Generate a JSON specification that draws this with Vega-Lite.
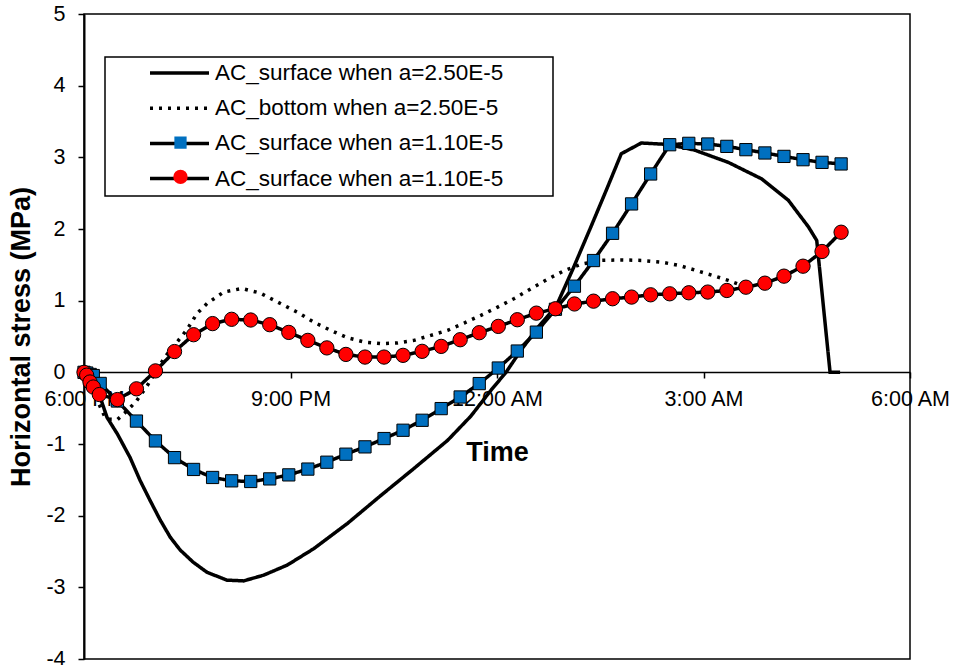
{
  "$schema": "https://vega.github.io/schema/vega-lite/v6.json",
  "width": 826,
  "height": 645,
  "autosize": {"type": "none"},
  "padding": {"left": 84, "top": 14, "right": 43, "bottom": 6},
  "background": "white",
  "config": {
    "view": {"stroke": "black", "strokeWidth": 1.5},
    "font": "Liberation Sans",
    "legend": {"strokeWidth": 1.5},
    "axis": {
      "grid": false,
      "domainColor": "black",
      "tickColor": "black",
      "labelColor": "black",
      "titleColor": "black",
      "labelFont": "Liberation Sans",
      "titleFont": "Liberation Sans",
      "labelFontSize": 21.5,
      "titleFontSize": 27,
      "titleFontWeight": "bold",
      "domainWidth": 1.5,
      "tickWidth": 1.5,
      "tickSize": 6
    }
  },
  "data": {
    "values": [
      {"series": "s1", "t": 0, "stress": 0},
      {"series": "s1", "t": 0.1165, "stress": -0.14},
      {"series": "s1", "t": 0.2257, "stress": -0.32},
      {"series": "s1", "t": 0.3349, "stress": -0.63},
      {"series": "s1", "t": 0.4849, "stress": -0.86},
      {"series": "s1", "t": 0.6699, "stress": -1.19},
      {"series": "s1", "t": 0.8155, "stress": -1.51},
      {"series": "s1", "t": 0.9611, "stress": -1.79},
      {"series": "s1", "t": 1.1068, "stress": -2.06},
      {"series": "s1", "t": 1.2524, "stress": -2.3},
      {"series": "s1", "t": 1.398, "stress": -2.48},
      {"series": "s1", "t": 1.5873, "stress": -2.65},
      {"series": "s1", "t": 1.7868, "stress": -2.79},
      {"series": "s1", "t": 2.078, "stress": -2.9},
      {"series": "s1", "t": 2.3198, "stress": -2.91},
      {"series": "s1", "t": 2.611, "stress": -2.83},
      {"series": "s1", "t": 2.9518, "stress": -2.69},
      {"series": "s1", "t": 3.3391, "stress": -2.46},
      {"series": "s1", "t": 3.8255, "stress": -2.11},
      {"series": "s1", "t": 4.3105, "stress": -1.72},
      {"series": "s1", "t": 4.7954, "stress": -1.34},
      {"series": "s1", "t": 5.2818, "stress": -0.95},
      {"series": "s1", "t": 5.6211, "stress": -0.61},
      {"series": "s1", "t": 5.9123, "stress": -0.25},
      {"series": "s1", "t": 6.1308, "stress": 0},
      {"series": "s1", "t": 6.3492, "stress": 0.31},
      {"series": "s1", "t": 6.5968, "stress": 0.63},
      {"series": "s1", "t": 6.8589, "stress": 0.92},
      {"series": "s1", "t": 7.1065, "stress": 1.45},
      {"series": "s1", "t": 7.3686, "stress": 2.04},
      {"series": "s1", "t": 7.587, "stress": 2.54},
      {"series": "s1", "t": 7.8054, "stress": 3.05},
      {"series": "s1", "t": 8.0967, "stress": 3.2},
      {"series": "s1", "t": 8.4855, "stress": 3.18},
      {"series": "s1", "t": 8.8729, "stress": 3.1},
      {"series": "s1", "t": 9.3593, "stress": 2.93},
      {"series": "s1", "t": 9.8442, "stress": 2.7},
      {"series": "s1", "t": 10.233, "stress": 2.4},
      {"series": "s1", "t": 10.5242, "stress": 2.03},
      {"series": "s1", "t": 10.6451, "stress": 1.84},
      {"series": "s1", "t": 10.8388, "stress": 0},
      {"series": "s1", "t": 10.9844, "stress": 0},

      {"series": "s2", "t": 0, "stress": 0},
      {"series": "s2", "t": 0.08, "stress": -0.11},
      {"series": "s2", "t": 0.131, "stress": -0.25},
      {"series": "s2", "t": 0.226, "stress": -0.46},
      {"series": "s2", "t": 0.306, "stress": -0.63},
      {"series": "s2", "t": 0.379, "stress": -0.655},
      {"series": "s2", "t": 0.485, "stress": -0.66},
      {"series": "s2", "t": 0.622, "stress": -0.54},
      {"series": "s2", "t": 0.762, "stress": -0.4},
      {"series": "s2", "t": 0.913, "stress": -0.195},
      {"series": "s2", "t": 1.038, "stress": 0},
      {"series": "s2", "t": 1.18, "stress": 0.22},
      {"series": "s2", "t": 1.35, "stress": 0.42},
      {"series": "s2", "t": 1.496, "stress": 0.595},
      {"series": "s2", "t": 1.641, "stress": 0.82},
      {"series": "s2", "t": 1.787, "stress": 0.96},
      {"series": "s2", "t": 2.029, "stress": 1.12},
      {"series": "s2", "t": 2.297, "stress": 1.17},
      {"series": "s2", "t": 2.563, "stress": 1.105},
      {"series": "s2", "t": 2.854, "stress": 0.96},
      {"series": "s2", "t": 3.097, "stress": 0.84},
      {"series": "s2", "t": 3.339, "stress": 0.7},
      {"series": "s2", "t": 3.582, "stress": 0.586},
      {"series": "s2", "t": 3.826, "stress": 0.484},
      {"series": "s2", "t": 4.067, "stress": 0.423},
      {"series": "s2", "t": 4.311, "stress": 0.4},
      {"series": "s2", "t": 4.554, "stress": 0.41},
      {"series": "s2", "t": 4.795, "stress": 0.446},
      {"series": "s2", "t": 5.039, "stress": 0.516},
      {"series": "s2", "t": 5.282, "stress": 0.586},
      {"series": "s2", "t": 5.524, "stress": 0.688},
      {"series": "s2", "t": 5.767, "stress": 0.795},
      {"series": "s2", "t": 6.01, "stress": 0.91},
      {"series": "s2", "t": 6.252, "stress": 1.03},
      {"series": "s2", "t": 6.495, "stress": 1.167},
      {"series": "s2", "t": 6.738, "stress": 1.3},
      {"series": "s2", "t": 6.98, "stress": 1.42},
      {"series": "s2", "t": 7.223, "stress": 1.51},
      {"series": "s2", "t": 7.514, "stress": 1.562},
      {"series": "s2", "t": 7.805, "stress": 1.569},
      {"series": "s2", "t": 8.097, "stress": 1.562},
      {"series": "s2", "t": 8.388, "stress": 1.538},
      {"series": "s2", "t": 8.654, "stress": 1.49},
      {"series": "s2", "t": 8.898, "stress": 1.42},
      {"series": "s2", "t": 9.141, "stress": 1.35},
      {"series": "s2", "t": 9.359, "stress": 1.283},
      {"series": "s2", "t": 9.616, "stress": 1.19},

      {"series": "s3", "t": 0, "stress": 0},
      {"series": "s3", "t": 0.04, "stress": -0.01},
      {"series": "s3", "t": 0.09, "stress": -0.03},
      {"series": "s3", "t": 0.135, "stress": -0.045},
      {"series": "s3", "t": 0.235, "stress": -0.155},
      {"series": "s3", "t": 0.485, "stress": -0.4},
      {"series": "s3", "t": 0.762, "stress": -0.68},
      {"series": "s3", "t": 1.038, "stress": -0.957},
      {"series": "s3", "t": 1.315, "stress": -1.19},
      {"series": "s3", "t": 1.592, "stress": -1.355},
      {"series": "s3", "t": 1.868, "stress": -1.467},
      {"series": "s3", "t": 2.145, "stress": -1.514},
      {"series": "s3", "t": 2.422, "stress": -1.523},
      {"series": "s3", "t": 2.698, "stress": -1.487},
      {"series": "s3", "t": 2.975, "stress": -1.431},
      {"series": "s3", "t": 3.252, "stress": -1.35},
      {"series": "s3", "t": 3.528, "stress": -1.254},
      {"series": "s3", "t": 3.805, "stress": -1.142},
      {"series": "s3", "t": 4.082, "stress": -1.04},
      {"series": "s3", "t": 4.359, "stress": -0.924},
      {"series": "s3", "t": 4.635, "stress": -0.808},
      {"series": "s3", "t": 4.912, "stress": -0.669},
      {"series": "s3", "t": 5.189, "stress": -0.506},
      {"series": "s3", "t": 5.465, "stress": -0.344},
      {"series": "s3", "t": 5.742, "stress": -0.157},
      {"series": "s3", "t": 6.019, "stress": 0.06},
      {"series": "s3", "t": 6.295, "stress": 0.297},
      {"series": "s3", "t": 6.572, "stress": 0.561},
      {"series": "s3", "t": 6.849, "stress": 0.88},
      {"series": "s3", "t": 7.125, "stress": 1.202},
      {"series": "s3", "t": 7.402, "stress": 1.56},
      {"series": "s3", "t": 7.679, "stress": 1.94},
      {"series": "s3", "t": 7.955, "stress": 2.35},
      {"series": "s3", "t": 8.232, "stress": 2.768},
      {"series": "s3", "t": 8.509, "stress": 3.176},
      {"series": "s3", "t": 8.786, "stress": 3.195},
      {"series": "s3", "t": 9.062, "stress": 3.186},
      {"series": "s3", "t": 9.339, "stress": 3.153},
      {"series": "s3", "t": 9.616, "stress": 3.107},
      {"series": "s3", "t": 9.892, "stress": 3.061},
      {"series": "s3", "t": 10.169, "stress": 3.013},
      {"series": "s3", "t": 10.446, "stress": 2.967},
      {"series": "s3", "t": 10.722, "stress": 2.93},
      {"series": "s3", "t": 10.999, "stress": 2.908},

      {"series": "s4", "t": 0, "stress": 0},
      {"series": "s4", "t": 0.039, "stress": -0.04},
      {"series": "s4", "t": 0.087, "stress": -0.135},
      {"series": "s4", "t": 0.135, "stress": -0.205},
      {"series": "s4", "t": 0.223, "stress": -0.31},
      {"series": "s4", "t": 0.485, "stress": -0.38},
      {"series": "s4", "t": 0.762, "stress": -0.23},
      {"series": "s4", "t": 1.038, "stress": 0.02},
      {"series": "s4", "t": 1.315, "stress": 0.29},
      {"series": "s4", "t": 1.592, "stress": 0.525},
      {"series": "s4", "t": 1.868, "stress": 0.68},
      {"series": "s4", "t": 2.145, "stress": 0.74},
      {"series": "s4", "t": 2.422, "stress": 0.73},
      {"series": "s4", "t": 2.698, "stress": 0.665},
      {"series": "s4", "t": 2.975, "stress": 0.557},
      {"series": "s4", "t": 3.252, "stress": 0.446},
      {"series": "s4", "t": 3.528, "stress": 0.341},
      {"series": "s4", "t": 3.805, "stress": 0.25},
      {"series": "s4", "t": 4.082, "stress": 0.213},
      {"series": "s4", "t": 4.359, "stress": 0.213},
      {"series": "s4", "t": 4.635, "stress": 0.237},
      {"series": "s4", "t": 4.912, "stress": 0.293},
      {"series": "s4", "t": 5.189, "stress": 0.362},
      {"series": "s4", "t": 5.465, "stress": 0.455},
      {"series": "s4", "t": 5.742, "stress": 0.553},
      {"series": "s4", "t": 6.019, "stress": 0.641},
      {"series": "s4", "t": 6.295, "stress": 0.734},
      {"series": "s4", "t": 6.572, "stress": 0.826},
      {"series": "s4", "t": 6.849, "stress": 0.887},
      {"series": "s4", "t": 7.125, "stress": 0.954},
      {"series": "s4", "t": 7.402, "stress": 0.993},
      {"series": "s4", "t": 7.679, "stress": 1.027},
      {"series": "s4", "t": 7.955, "stress": 1.05},
      {"series": "s4", "t": 8.232, "stress": 1.082},
      {"series": "s4", "t": 8.509, "stress": 1.096},
      {"series": "s4", "t": 8.786, "stress": 1.11},
      {"series": "s4", "t": 9.062, "stress": 1.12},
      {"series": "s4", "t": 9.339, "stress": 1.142},
      {"series": "s4", "t": 9.616, "stress": 1.188},
      {"series": "s4", "t": 9.892, "stress": 1.244},
      {"series": "s4", "t": 10.169, "stress": 1.342},
      {"series": "s4", "t": 10.446, "stress": 1.481},
      {"series": "s4", "t": 10.722, "stress": 1.686},
      {"series": "s4", "t": 10.999, "stress": 1.955}
    ]
  },
  "layer": [
    {
      "mark": {"type": "line", "color": "black", "strokeWidth": 3.5},
      "encoding": {
        "x": {
          "field": "t",
          "type": "quantitative",
          "scale": {"domain": [0, 12], "nice": false, "zero": false},
          "axis": {
            "values": [0, 3, 6, 9, 12],
            "labelExpr": "datum.value == 0 ? '6:00 PM' : datum.value == 3 ? '9:00 PM' : datum.value == 6 ? '12:00 AM' : datum.value == 9 ? '3:00 AM' : '6:00 AM'",
            "title": "Time",
            "offset": -287,
            "labelPadding": 10,
            "titlePadding": 30,
            "labelFlush": false,
            "labelOverlap": false
          }
        },
        "y": {
          "field": "stress",
          "type": "quantitative",
          "scale": {"domain": [-4, 5], "nice": false, "zero": false},
          "axis": {
            "values": [-4, -3, -2, -1, 0, 1, 2, 3, 4, 5],
            "labelExpr": "'' + datum.value",
            "title": "Horizontal stress (MPa)",
            "labelPadding": 13,
            "titlePadding": 10,
            "labelFlush": false,
            "labelOverlap": false,
            "domainWidth": 2
          }
        },
        "strokeDash": {
          "field": "series",
          "type": "nominal",
          "scale": {"domain": ["s1", "s2", "s3", "s4"], "range": [[1, 0], [3, 6], [1, 0], [1, 0]]},
          "legend": {
            "orient": "none",
            "legendX": 21,
            "legendY": 43,
            "title": null,
            "symbolType": "stroke",
            "symbolSize": 3481,
            "symbolStrokeWidth": 3.5,
            "symbolStrokeColor": "black",
            "clipHeight": 22,
            "rowPadding": 12.2,
            "padding": 5,
            "symbolOffset": 38,
            "labelOffset": 4,
            "labelFont": "Liberation Sans",
            "labelFontSize": 22.5,
            "labelColor": "black",
            "labelLimit": 0,
            "strokeColor": "black",
            "fillColor": "white",
            "labelExpr": "(datum.label == 's1' ? 'AC_surface when a=2.50E-5' : datum.label == 's2' ? 'AC_bottom when a=2.50E-5' : 'AC_surface when a=1.10E-5') + '\u00a0\u00a0\u00a0\u00a0\u00a0\u00a0\u00a0\u200b'"
          }
        }
      }
    },
    {
      "transform": [{"filter": {"field": "series", "oneOf": ["s3", "s4"]}}],
      "mark": {"type": "point", "filled": true, "stroke": "black", "strokeWidth": 1, "opacity": 1},
      "encoding": {
        "x": {"field": "t", "type": "quantitative"},
        "y": {"field": "stress", "type": "quantitative"},
        "shape": {
          "field": "series",
          "type": "nominal",
          "scale": {"domain": ["s3", "s4"], "range": ["square", "circle"]},
          "legend": {
            "orient": "none",
            "legendX": 88.5,
            "legendY": 117.7,
            "title": null,
            "symbolStrokeColor": "black",
            "symbolStrokeWidth": 1,
            "symbolOpacity": 1,
            "clipHeight": 22,
            "rowPadding": 12.2,
            "padding": 0,
            "labelFontSize": 1,
            "labelExpr": "''"
          }
        },
        "size": {
          "field": "series",
          "type": "nominal",
          "scale": {"domain": ["s3", "s4"], "range": [150, 205]},
          "legend": {
            "orient": "none",
            "legendX": 88.5,
            "legendY": 117.7,
            "title": null,
            "symbolStrokeColor": "black",
            "symbolStrokeWidth": 1,
            "symbolOpacity": 1,
            "clipHeight": 22,
            "rowPadding": 12.2,
            "padding": 0,
            "labelFontSize": 1,
            "labelExpr": "''"
          }
        },
        "fill": {
          "field": "series",
          "type": "nominal",
          "scale": {"domain": ["s3", "s4"], "range": ["#0070C0", "#FF0000"]},
          "legend": {
            "orient": "none",
            "legendX": 88.5,
            "legendY": 117.7,
            "title": null,
            "symbolStrokeColor": "black",
            "symbolStrokeWidth": 1,
            "symbolOpacity": 1,
            "clipHeight": 22,
            "rowPadding": 12.2,
            "padding": 0,
            "labelFontSize": 1,
            "labelExpr": "''"
          }
        }
      }
    }
  ]
}
